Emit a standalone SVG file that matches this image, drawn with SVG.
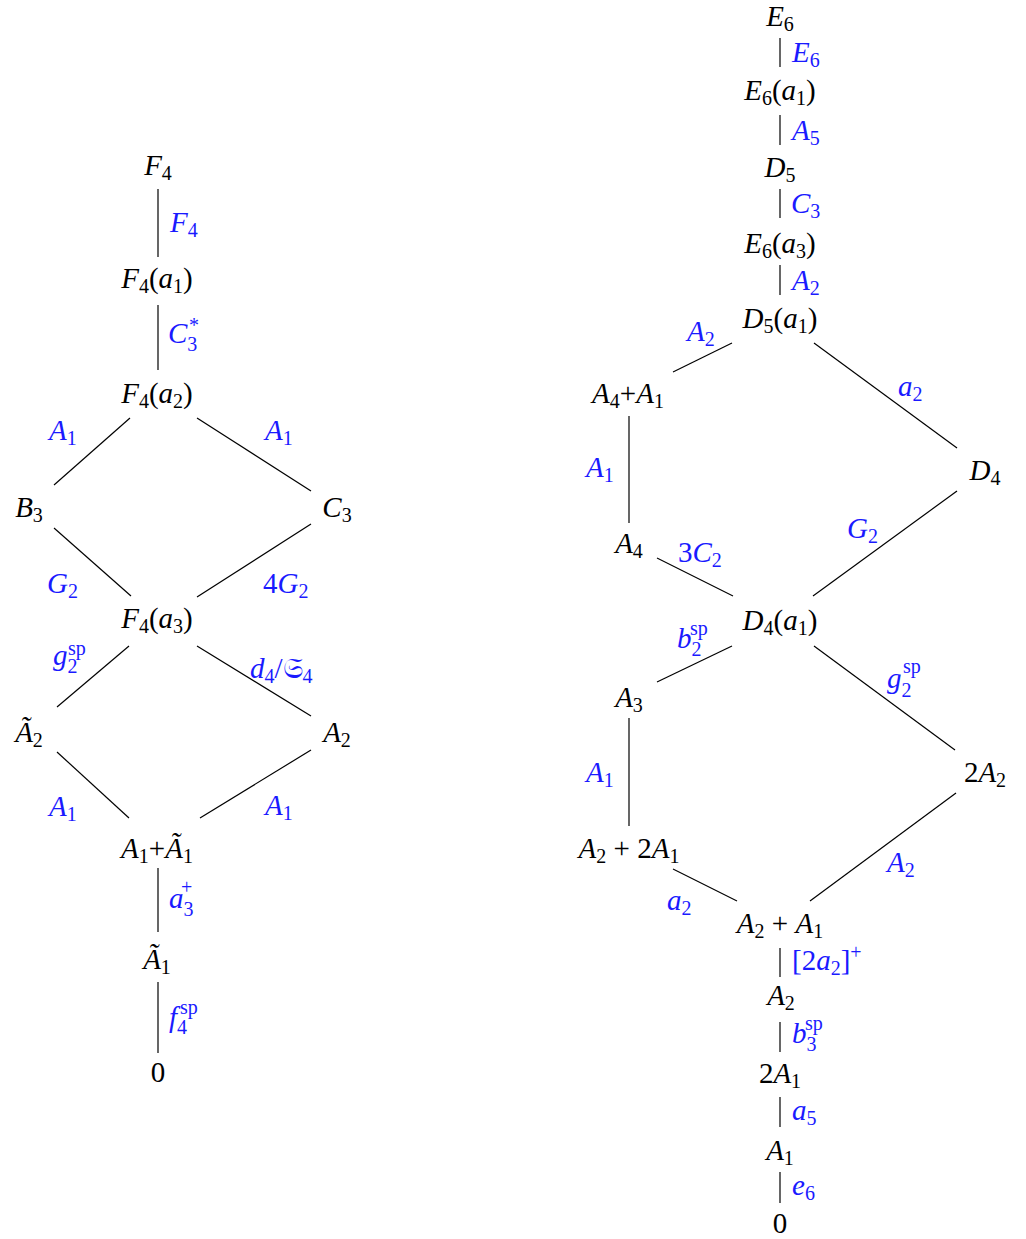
<svg xmlns="http://www.w3.org/2000/svg" width="1026" height="1239" viewBox="0 0 1026 1239">
<style>
text{font-family:"Liberation Serif","DejaVu Serif",serif;font-size:29px;fill:#000}
.b{fill:#1a1aff}
.i{font-style:italic}
.s{font-size:20px}
.m{text-anchor:middle}
#edges line{stroke:#000;stroke-width:1.2}
</style>
<rect width="1026" height="1239" fill="#fff"/>
<g id="edges">
<line x1="158" y1="189" x2="158" y2="257"/>
<line x1="158" y1="305" x2="158" y2="370"/>
<line x1="130" y1="418" x2="54" y2="485"/>
<line x1="197" y1="418" x2="311" y2="491"/>
<line x1="54" y1="528" x2="131" y2="596"/>
<line x1="311" y1="524" x2="197" y2="597"/>
<line x1="129" y1="646" x2="57" y2="707"/>
<line x1="197" y1="646" x2="311" y2="716"/>
<line x1="57" y1="752" x2="129" y2="818"/>
<line x1="311" y1="750" x2="200" y2="818"/>
<line x1="158" y1="868" x2="158" y2="932"/>
<line x1="158" y1="982" x2="158" y2="1053"/>
<line x1="780" y1="38" x2="780" y2="67"/>
<line x1="780" y1="115" x2="780" y2="145"/>
<line x1="780" y1="189" x2="780" y2="218"/>
<line x1="780" y1="265" x2="780" y2="295"/>
<line x1="732" y1="343" x2="673" y2="372"/>
<line x1="814" y1="343" x2="957" y2="448"/>
<line x1="629" y1="416" x2="629" y2="523"/>
<line x1="657" y1="558" x2="733" y2="596"/>
<line x1="957" y1="491" x2="813" y2="596"/>
<line x1="732" y1="646" x2="657" y2="682"/>
<line x1="814" y1="646" x2="955" y2="750"/>
<line x1="629" y1="718" x2="629" y2="826"/>
<line x1="673" y1="869" x2="737" y2="901"/>
<line x1="956" y1="793" x2="810" y2="901"/>
<line x1="780" y1="948" x2="780" y2="977"/>
<line x1="780" y1="1022" x2="780" y2="1052"/>
<line x1="780" y1="1097" x2="780" y2="1127"/>
<line x1="780" y1="1172" x2="780" y2="1203"/>
</g>
<g id="labels">
<text class="b" x="170" y="232"><tspan class="i">F</tspan><tspan class="s" dy="5">4</tspan></text>
<text class="b" x="168" y="343"><tspan class="i">C</tspan><tspan class="s" dy="8">3</tspan><tspan class="s" x="189" dy="-19">*</tspan></text>
<text class="b" x="49" y="440"><tspan class="i">A</tspan><tspan class="s" dy="5">1</tspan></text>
<text class="b" x="265" y="440"><tspan class="i">A</tspan><tspan class="s" dy="5">1</tspan></text>
<text class="b" x="47" y="593"><tspan class="i">G</tspan><tspan class="s" dy="5">2</tspan></text>
<text class="b" x="263" y="593">4<tspan class="i">G</tspan><tspan class="s" dy="5">2</tspan></text>
<text class="b" x="53" y="665"><tspan class="i">g</tspan><tspan class="s" dy="8">2</tspan><tspan class="s" x="68" dy="-18">sp</tspan></text>
<text class="b" x="250" y="678"><tspan class="i">d</tspan><tspan class="s" dy="5">4</tspan><tspan dy="-5">/𝔖</tspan><tspan class="s" dy="5">4</tspan></text>
<text class="b" x="49" y="816"><tspan class="i">A</tspan><tspan class="s" dy="5">1</tspan></text>
<text class="b" x="265" y="815"><tspan class="i">A</tspan><tspan class="s" dy="5">1</tspan></text>
<text class="b" x="169" y="908"><tspan class="i">a</tspan><tspan class="s" dy="8">3</tspan><tspan class="s" x="181" dy="-22">+</tspan></text>
<text class="b" x="169" y="1027"><tspan class="i">f</tspan><tspan class="s" dy="7">4</tspan><tspan class="s" x="180" dy="-20">sp</tspan></text>
<text class="b" x="792" y="62"><tspan class="i">E</tspan><tspan class="s" dy="5">6</tspan></text>
<text class="b" x="792" y="140"><tspan class="i">A</tspan><tspan class="s" dy="5">5</tspan></text>
<text class="b" x="791" y="213"><tspan class="i">C</tspan><tspan class="s" dy="5">3</tspan></text>
<text class="b" x="792" y="290"><tspan class="i">A</tspan><tspan class="s" dy="5">2</tspan></text>
<text class="b" x="687" y="341"><tspan class="i">A</tspan><tspan class="s" dy="5">2</tspan></text>
<text class="b" x="898" y="396"><tspan class="i">a</tspan><tspan class="s" dy="5">2</tspan></text>
<text class="b" x="586" y="477"><tspan class="i">A</tspan><tspan class="s" dy="5">1</tspan></text>
<text class="b" x="678" y="562">3<tspan class="i">C</tspan><tspan class="s" dy="5">2</tspan></text>
<text class="b" x="847" y="538"><tspan class="i">G</tspan><tspan class="s" dy="5">2</tspan></text>
<text class="b" x="677" y="648"><tspan class="i">b</tspan><tspan class="s" dy="8">2</tspan><tspan class="s" x="690" dy="-21">sp</tspan></text>
<text class="b" x="887" y="688"><tspan class="i">g</tspan><tspan class="s" dy="9">2</tspan><tspan class="s" x="903" dy="-24">sp</tspan></text>
<text class="b" x="586" y="782"><tspan class="i">A</tspan><tspan class="s" dy="5">1</tspan></text>
<text class="b" x="667" y="910"><tspan class="i">a</tspan><tspan class="s" dy="5">2</tspan></text>
<text class="b" x="887" y="872"><tspan class="i">A</tspan><tspan class="s" dy="5">2</tspan></text>
<text class="b" x="792" y="970">[2<tspan class="i">a</tspan><tspan class="s" dy="5">2</tspan><tspan dy="-5">]</tspan><tspan class="s" dy="-11">+</tspan></text>
<text class="b" x="792" y="1043"><tspan class="i">b</tspan><tspan class="s" dy="8">3</tspan><tspan class="s" x="805" dy="-21">sp</tspan></text>
<text class="b" x="792" y="1120"><tspan class="i">a</tspan><tspan class="s" dy="5">5</tspan></text>
<text class="b" x="792" y="1195"><tspan class="i">e</tspan><tspan class="s" dy="5">6</tspan></text>
</g>
<g id="n-F4"><text class="m" x="158" y="175"><tspan class="i">F</tspan><tspan class="s" dy="5">4</tspan></text></g>
<g id="n-F4a1"><text class="m" x="157" y="288"><tspan class="i">F</tspan><tspan class="s" dy="5">4</tspan><tspan dy="-5">(</tspan><tspan class="i">a</tspan><tspan class="s" dy="5">1</tspan><tspan dy="-5">)</tspan></text></g>
<g id="n-F4a2"><text class="m" x="157" y="403"><tspan class="i">F</tspan><tspan class="s" dy="5">4</tspan><tspan dy="-5">(</tspan><tspan class="i">a</tspan><tspan class="s" dy="5">2</tspan><tspan dy="-5">)</tspan></text></g>
<g id="n-B3"><text class="m" x="29" y="517"><tspan class="i">B</tspan><tspan class="s" dy="5">3</tspan></text></g>
<g id="n-C3"><text class="m" x="337" y="517"><tspan class="i">C</tspan><tspan class="s" dy="5">3</tspan></text></g>
<g id="n-F4a3"><text class="m" x="157" y="628"><tspan class="i">F</tspan><tspan class="s" dy="5">4</tspan><tspan dy="-5">(</tspan><tspan class="i">a</tspan><tspan class="s" dy="5">3</tspan><tspan dy="-5">)</tspan></text></g>
<g id="n-tA2"><text class="m" x="29" y="742"><tspan class="i">Ã</tspan><tspan class="s" dy="5">2</tspan></text></g>
<g id="n-A2L"><text class="m" x="337" y="742"><tspan class="i">A</tspan><tspan class="s" dy="5">2</tspan></text></g>
<g id="n-A1tA1"><text class="m" x="157" y="858"><tspan class="i">A</tspan><tspan class="s" dy="5">1</tspan><tspan dy="-5">+</tspan><tspan class="i">Ã</tspan><tspan class="s" dy="5">1</tspan></text></g>
<g id="n-tA1"><text class="m" x="157" y="969"><tspan class="i">Ã</tspan><tspan class="s" dy="5">1</tspan></text></g>
<g id="n-0L"><text class="m" x="158" y="1082">0</text></g>
<g id="n-E6"><text class="m" x="780" y="26"><tspan class="i">E</tspan><tspan class="s" dy="5">6</tspan></text></g>
<g id="n-E6a1"><text class="m" x="780" y="100"><tspan class="i">E</tspan><tspan class="s" dy="5">6</tspan><tspan dy="-5">(</tspan><tspan class="i">a</tspan><tspan class="s" dy="5">1</tspan><tspan dy="-5">)</tspan></text></g>
<g id="n-D5"><text class="m" x="780" y="177"><tspan class="i">D</tspan><tspan class="s" dy="5">5</tspan></text></g>
<g id="n-E6a3"><text class="m" x="780" y="253"><tspan class="i">E</tspan><tspan class="s" dy="5">6</tspan><tspan dy="-5">(</tspan><tspan class="i">a</tspan><tspan class="s" dy="5">3</tspan><tspan dy="-5">)</tspan></text></g>
<g id="n-D5a1"><text class="m" x="780" y="328"><tspan class="i">D</tspan><tspan class="s" dy="5">5</tspan><tspan dy="-5">(</tspan><tspan class="i">a</tspan><tspan class="s" dy="5">1</tspan><tspan dy="-5">)</tspan></text></g>
<g id="n-A4A1"><text class="m" x="628" y="403"><tspan class="i">A</tspan><tspan class="s" dy="5">4</tspan><tspan dy="-5">+</tspan><tspan class="i">A</tspan><tspan class="s" dy="5">1</tspan></text></g>
<g id="n-D4"><text class="m" x="985" y="480"><tspan class="i">D</tspan><tspan class="s" dy="5">4</tspan></text></g>
<g id="n-A4"><text class="m" x="629" y="553"><tspan class="i">A</tspan><tspan class="s" dy="5">4</tspan></text></g>
<g id="n-D4a1"><text class="m" x="780" y="630"><tspan class="i">D</tspan><tspan class="s" dy="5">4</tspan><tspan dy="-5">(</tspan><tspan class="i">a</tspan><tspan class="s" dy="5">1</tspan><tspan dy="-5">)</tspan></text></g>
<g id="n-A3"><text class="m" x="629" y="707"><tspan class="i">A</tspan><tspan class="s" dy="5">3</tspan></text></g>
<g id="n-2A2"><text class="m" x="985" y="782">2<tspan class="i">A</tspan><tspan class="s" dy="5">2</tspan></text></g>
<g id="n-A22A1"><text class="m" x="629" y="858"><tspan class="i">A</tspan><tspan class="s" dy="5">2</tspan><tspan dy="-5"> + 2</tspan><tspan class="i">A</tspan><tspan class="s" dy="5">1</tspan></text></g>
<g id="n-A2A1"><text class="m" x="780" y="933"><tspan class="i">A</tspan><tspan class="s" dy="5">2</tspan><tspan dy="-5"> + </tspan><tspan class="i">A</tspan><tspan class="s" dy="5">1</tspan></text></g>
<g id="n-A2R"><text class="m" x="781" y="1005"><tspan class="i">A</tspan><tspan class="s" dy="5">2</tspan></text></g>
<g id="n-2A1"><text class="m" x="780" y="1083">2<tspan class="i">A</tspan><tspan class="s" dy="5">1</tspan></text></g>
<g id="n-A1R"><text class="m" x="780" y="1160"><tspan class="i">A</tspan><tspan class="s" dy="5">1</tspan></text></g>
<g id="n-0R"><text class="m" x="780" y="1233">0</text></g>
</svg>
